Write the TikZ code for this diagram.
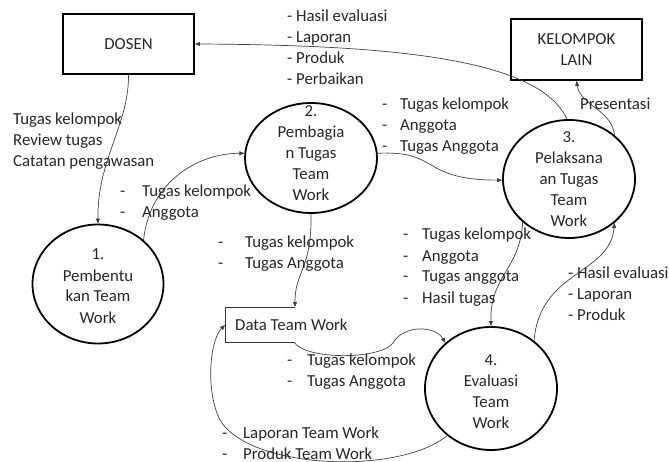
\documentclass[tikz,border=0pt]{standalone}
\usepackage{fontspec}
\setmainfont{Carlito}
\usetikzlibrary{shapes.geometric,arrows.meta}
\newcommand{\mydash}[1]{\makebox[#1pt][l]{-}}
\tikzset{
  txt/.style={font=\fontsize{16.8}{21}\selectfont, text=black!85, inner sep=0pt, align=left, anchor=base west},
  ctxt/.style={font=\fontsize{16.8}{21}\selectfont, text=black!85, inner sep=0pt, align=center, anchor=base},
  proc/.style={draw=black, line width=1.8pt, ellipse, inner sep=0pt},
  ent/.style={draw=black, line width=1.8pt, rectangle, inner sep=0pt, font=\fontsize{16.8}{21}\selectfont, text=black!85, align=center},
  flow/.style={line width=0.7pt, draw=black!75, -{Triangle[length=5pt,width=4pt]}},
  store/.style={line width=0.9pt, draw=black!80}
}
\begin{document}
\begin{tikzpicture}[x=1pt,y=-1pt]
\useasboundingbox (0,0) rectangle (669,462);
% entities
\node[ent, minimum width=131pt, minimum height=60pt] (dosen) at (128.5,44) {DOSEN};
\node[ent, minimum width=131pt, minimum height=61pt] (kel) at (576.5,49.5) {KELOMPOK\\LAIN};
% processes
\node[proc, minimum width=131pt, minimum height=119pt] (c1) at (98,284) {};
\node[proc, minimum width=132pt, minimum height=110pt] (c2) at (311,158) {};
\node[proc, minimum width=132pt, minimum height=118pt] (c3) at (569,179) {};
\node[proc, minimum width=132pt, minimum height=123pt] (c4) at (491,388.5) {};
\node[ctxt] (t1) at (98,323) {1.\\Pembentu\\kan Team\\Work};
\node[ctxt] (t2) at (311,201) {2.\\Pembagia\\n Tugas\\Team\\Work};
\node[ctxt] (t3) at (569,227) {3.\\Pelaksana\\an Tugas\\Team\\Work};
\node[ctxt] (t4) at (491,428) {4.\\Evaluasi\\Team\\Work};
% data store
\draw[store] (295,307) -- (225,307) -- (225,342) -- (294,342);
\node[txt] (ds) at (235,330) {Data Team Work};
\coordinate (dsTop) at (295,307);
\coordinate (dsBot) at (294,342);
\coordinate (dsLeft) at (225,325);
% flows
\draw[flow] (dosen.south) .. controls (129,125) and (97,160) .. (c1.north);
\draw[flow] (c1.44) .. controls (150,180) and (200,153) .. (c2.176);
\draw[flow] (c3.92) .. controls (540,60) and (400,45) .. (dosen.east);
\draw[flow] (c3.44) .. controls (612,110) and (580,105) .. (kel.south);
\draw[flow] (c2.4) .. controls (440,150) and (420,180) .. (c3.181);
\draw[flow] (c2.south) .. controls (312,270) and (295,270) .. (dsTop);
\draw[flow] (c3.223) .. controls (520,270) and (490,275) .. (c4.north);
\draw[flow] (c4.48) .. controls (540,270) and (610,275) .. (c3.316);
\draw[flow] (dsBot) .. controls (305,360) and (380,360) .. (393,343) .. controls (403,325) and (435,325) .. (c4.135);
\draw[flow] (c4.227) .. controls (400,475) and (250,470) .. (220,420) .. controls (205,390) and (210,340) .. (dsLeft);
% labels
\node[txt] (l1) at (287,85) {- Hasil evaluasi\\- Laporan\\- Produk\\- Perbaikan};
\node[txt] (l2) at (13,167) {Tugas kelompok\\Review tugas\\Catatan pengawasan};
\node[txt] (l3) at (120,218) {\mydash{22}Tugas kelompok\\\mydash{22}Anggota};
\node[txt] (l4) at (382,152) {\mydash{18}Tugas kelompok\\\mydash{18}Anggota\\\mydash{18}Tugas Anggota};
\node[txt] (l5) at (580,110) {Presentasi};
\node[txt] (l6) at (218,269) {\mydash{27}Tugas kelompok\\\mydash{27}Tugas Anggota};
\node[txt] (l7) at (403,303) {\mydash{19}Tugas kelompok\\\mydash{19}Anggota\\\mydash{19}Tugas anggota\\\mydash{19}Hasil tugas};
\node[txt] (l8) at (568,320) {- Hasil evaluasi\\- Laporan\\- Produk};
\node[txt] (l9) at (287,386) {\mydash{20}Tugas kelompok\\\mydash{20}Tugas Anggota};
\node[txt] (l10) at (222,459) {\mydash{21}Laporan Team Work\\\mydash{21}Produk Team Work};
\end{tikzpicture}
\end{document}
